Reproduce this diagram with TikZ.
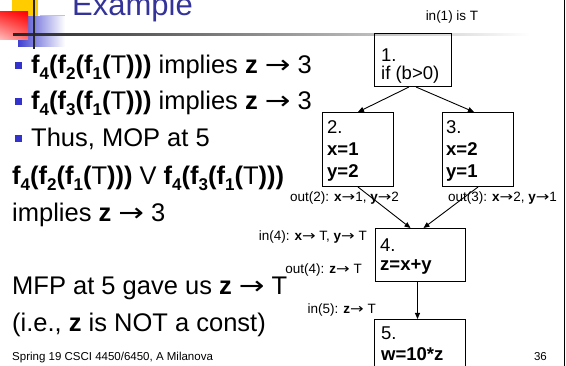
\documentclass[tikz,border=0pt]{standalone}
\usepackage{fontspec}
\usepackage{graphicx}
\setmainfont{Liberation Sans}
\newfontfamily\arrowfont{DejaVu Sans}
\usetikzlibrary{arrows.meta,shadings}
\definecolor{titleblue}{RGB}{51,51,153}
\definecolor{bulletblue}{RGB}{51,51,204}
\definecolor{logoblue}{RGB}{64,64,208}
\definecolor{logoyellow}{RGB}{255,204,0}
\newcommand\myra{{\arrowfont\scalebox{1.2}[1]{→}}}
\newcommand\fsb[1]{f\raisebox{-0.22em}{\fontsize{17}{17}\selectfont #1}}
\tikzset{
  box/.style={draw, line width=1pt, inner sep=0pt, anchor=north west},
  ntext/.style={font=\fontsize{18.5}{20}\selectfont, anchor=base west, inner sep=0pt},
  lbl/.style={font=\fontsize{13.5}{15}\selectfont, inner sep=0pt},
  maintext/.style={font=\fontsize{25.5}{30}\selectfont, anchor=base west, inner sep=0pt},
  bulletsq/.style={fill=bulletblue, minimum size=7pt, inner sep=0pt},
  edge/.style={-{Triangle[length=6pt,width=5pt]}, line width=0.9pt},
}
\begin{document}
\begin{tikzpicture}[x=1pt,y=-1pt]
\useasboundingbox (0,0) rectangle (566,366);
\clip (0,0) rectangle (566,366);
\fill[white] (0,0) rectangle (566,366);
% logo
\fill[logoyellow] (12,-10) rectangle (38,20);
\fill[logoyellow] (40,15) rectangle (65,18);
\shade[left color=logoblue, right color=white] (18,17) rectangle (65,47);
\shade[upper right=red, upper left=red!85, lower left=red!25, lower right=red!55] (0,12) rectangle (28,40);
\shade[left color=black!85, right color=white] (13,33.5) rectangle (530,35.5);
\fill[black!85] (33,0) rectangle (35,49);
% right border
\draw[line width=1pt] (564,0) -- (564,366);
% title
\node[anchor=base west, inner sep=0pt, text=titleblue, font=\fontsize{31}{34}\selectfont] (title) at (72,16) {Example};
% left text
\node[bulletsq] (b1) at (18,66) {};
\node[maintext] (l1) at (31,74) {{\bfseries\fsb4(\fsb2(\fsb1(}T{\bfseries)))} implies \textbf{z} \myra{} 3};
\node[bulletsq] (b2) at (18,102) {};
\node[maintext] (l2) at (31,110) {{\bfseries\fsb4(\fsb3(\fsb1(}T{\bfseries)))} implies \textbf{z} \myra{} 3};
\node[bulletsq] (b3) at (18,139) {};
\node[maintext] (l3) at (31,147) {Thus, MOP at 5};
\node[maintext] (l4) at (12,185) {{\bfseries\fsb4(\fsb2(\fsb1(}T{\bfseries)))} V {\bfseries\fsb4(\fsb3(\fsb1(}T{\bfseries)))}};
\node[maintext] (l5) at (12,222) {implies \textbf{z} \myra{} 3};
\node[maintext] (l6) at (12,295) {MFP at 5 gave us \textbf{z} \myra{} T};
\node[maintext] (l7) at (12,332) {(i.e., \textbf{z} is NOT a const)};
% footer
\node[anchor=base west, inner sep=0pt, font=\fontsize{11.5}{13}\selectfont] (foot) at (12,361) {Spring 19 CSCI 4450/6450, A Milanova};
\node[anchor=base east, inner sep=0pt, font=\fontsize{11.5}{13}\selectfont] (pg) at (547,361) {36};
% boxes
\node[box, minimum width=77pt, minimum height=53pt] (n1) at (374,33) {};
\node[ntext] (t1a) at (381,62) {1.};
\node[ntext] (t1b) at (381,80) {if (b>0)};
\node[box, minimum width=71pt, minimum height=74pt] (n2) at (322,112) {};
\node[ntext] (t2a) at (327,134) {2.};
\node[ntext] (t2b) at (327,156) {\textbf{x=1}};
\node[ntext] (t2c) at (327,178) {\textbf{y=2}};
\node[box, minimum width=71pt, minimum height=74pt] (n3) at (442,112) {};
\node[ntext] (t3a) at (446,134) {3.};
\node[ntext] (t3b) at (446,156) {\textbf{x=2}};
\node[ntext] (t3c) at (446,178) {\textbf{y=1}};
\node[box, minimum width=90pt, minimum height=53pt] (n4) at (375,228) {};
\node[ntext] (t4a) at (380,252) {4.};
\node[ntext] (t4b) at (380,271) {\textbf{z=x+y}};
\node[box, minimum width=91pt, minimum height=60pt] (n5) at (374,319) {};
\node[ntext] (t5a) at (381,340) {5.};
\node[ntext] (t5b) at (381,361) {\textbf{w=10*z}};
% edges
\draw[edge] ([xshift=-4pt]n1.south) -- (n2.north);
\draw[edge] ([xshift=3pt]n1.south) -- ([xshift=-4pt]n3.north);
\draw[edge] (n2.south) -- ([xshift=-10pt]n4.north);
\draw[edge] (n3.south) -- ([xshift=3pt]n4.north);
\draw[edge] ([xshift=-3pt]n4.south) -- ([xshift=-2.5pt]n5.north);
% labels
\node[lbl, anchor=base] (in1) at (452,21) {in(1) is T};
\node[lbl, anchor=base west] (out2) at (290,202) {out(2): \textbf{x}\myra1, \textbf{y}\myra2};
\node[lbl, anchor=base west] (out3) at (448,202) {out(3): \textbf{x}\myra2, \textbf{y}\myra1};
\node[lbl, anchor=base east] (in4) at (367,241) {in(4): \textbf{x}\myra{} T, \textbf{y}\myra{} T};
\node[lbl, anchor=base east] (out4) at (362,274) {out(4): \textbf{z}\myra{} T};
\node[lbl, anchor=base east] (in5) at (376,314) {in(5): \textbf{z}\myra{} T};
\end{tikzpicture}
\end{document}
